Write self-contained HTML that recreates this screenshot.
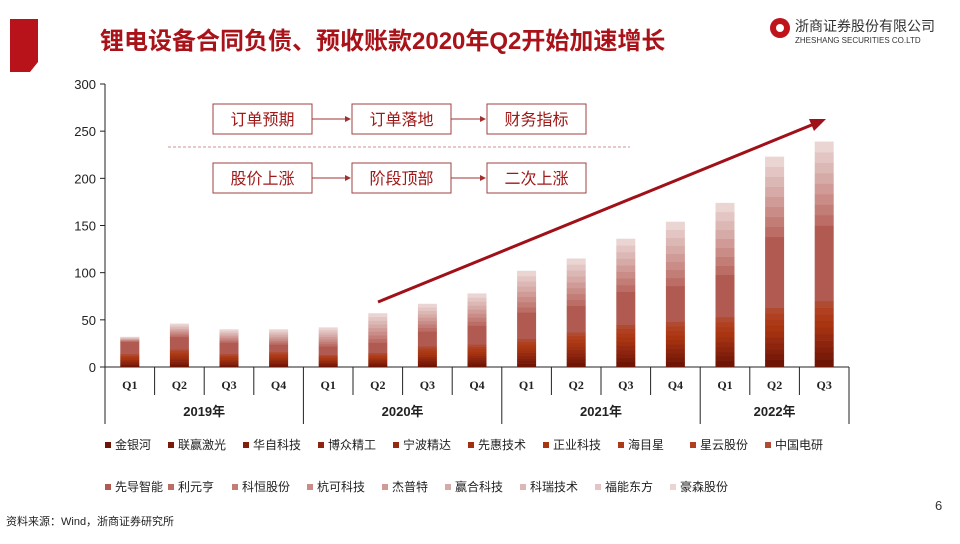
<!DOCTYPE html>
<html><head><meta charset="utf-8"><style>
body{margin:0;width:960px;height:539px;background:#fff;overflow:hidden;font-family:"Liberation Sans","Noto Sans CJK SC",sans-serif;}
svg text{font-family:"Liberation Sans","Noto Sans CJK SC",sans-serif;}
</style></head><body>
<svg id="s" width="960" height="539" viewBox="0 0 960 539" xmlns="http://www.w3.org/2000/svg">
<polygon points="10,19 38,19 38,62 30,72 10,72" fill="#b8121a"/>
<text x="100" y="49" font-size="24" font-weight="bold" fill="#a81218">锂电设备合同负债、预收账款2020年Q2开始加速增长</text>
<circle cx="780" cy="28" r="10" fill="#c0141c"/>
<circle cx="780" cy="28" r="4" fill="#fff"/>
<text x="795" y="31" font-size="14" fill="#333">浙商证券股份有限公司</text>
<text x="795" y="43" font-size="8" fill="#333">ZHESHANG SECURITIES CO.LTD</text>
<g id="chart"></g>
<text x="935" y="510" font-size="13" fill="#333">6</text>
<text x="6" y="525" font-size="11" fill="#222">资料来源：Wind，浙商证券研究所</text>
</svg>
<script>
var g=document.getElementById('chart'),h='';
var x0=105,y0=367,sc=283/300,cw=49.6;
for(var v=0;v<=300;v+=50){var y=y0-v*sc;h+='<text x="96" y="'+(y+5)+'" font-size="13" text-anchor="end" fill="#222">'+v+'</text><line x1="100" x2="105" y1="'+y+'" y2="'+y+'" stroke="#222"/>';}
h+='<line x1="105" y1="84" x2="105" y2="424" stroke="#222"/><line x1="105" y1="367" x2="849" y2="367" stroke="#222"/>';
var dark=['#6e1506','#7a1a08','#82200c','#8c240e','#962a10','#a0300f','#a83510','#ac3a18','#b04020','#b04a30'];
var df=[.12,.1,.08,.1,.1,.1,.1,.1,.1,.1];
var light=['#bc6e66','#c27d76','#c98c86','#d09b96','#d6aaa6','#dcb8b5','#e3c6c4','#ead5d3'];
var data=[[14,13,5],[19,13,14],[14,12,14],[16,8,16],[13,9,20],[15,11,31],[22,16,29],[24,20,34],[30,28,44],[37,28,50],[45,35,56],[48,38,68],[53,45,76],[63,75,85],[70,80,89]];
var q=['Q1','Q2','Q3','Q4'];
data.forEach(function(d,i){var cx=x0+cw*(i+.5),bw=19,cum=0;
 function seg(val,c){var yt=y0-(cum+val)*sc;h+='<rect x="'+(cx-bw/2)+'" y="'+yt+'" width="'+bw+'" height="'+(val*sc+0.3)+'" fill="'+c+'"/>';cum+=val;}
 dark.forEach(function(c,k){seg(d[0]*df[k],c);});
 seg(d[1],'#b05a52');
 light.forEach(function(c){seg(d[2]/8,c);});
 h+='<text x="'+cx+'" y="389" font-size="12" text-anchor="middle" fill="#222" style="font-family:\'Liberation Serif\',serif" font-weight="bold">'+q[i%4]+'</text>';
 var xe=x0+cw*(i+1);var yr=(i%4==3||i==14);h+='<line x1="'+xe+'" x2="'+xe+'" y1="367" y2="'+(yr?424:395)+'" stroke="#222"/>';
});
['2019年','2020年','2021年','2022年'].forEach(function(t,k){var cx=x0+cw*(4*k+2);if(k==3)cx=x0+cw*13.5;h+='<text x="'+cx+'" y="416" font-size="13" text-anchor="middle" fill="#222" font-weight="bold">'+t+'</text>';});
function box(x,y,t){h+='<rect x="'+x+'" y="'+y+'" width="99" height="30" fill="#fff" stroke="#a04040"/><text x="'+(x+49.5)+'" y="'+(y+21)+'" font-size="16" text-anchor="middle" fill="#a01818">'+t+'</text>';}
function arr(x1,x2,y){h+='<line x1="'+x1+'" x2="'+(x2-5)+'" y1="'+y+'" y2="'+y+'" stroke="#a03030"/><polygon points="'+x2+','+y+' '+(x2-6)+','+(y-3)+' '+(x2-6)+','+(y+3)+'" fill="#a03030"/>';}
box(213,104,'订单预期');box(352,104,'订单落地');box(487,104,'财务指标');
box(213,163,'股价上涨');box(352,163,'阶段顶部');box(487,163,'二次上涨');
arr(312,351,119);arr(451,486,119);arr(312,351,178);arr(451,486,178);
h+='<line x1="168" x2="630" y1="147" y2="147" stroke="#d09090" stroke-dasharray="3,2"/>';
h+='<line x1="378" y1="302" x2="814" y2="124" stroke="#a01018" stroke-width="3"/><polygon points="826,119 809,119 814,131" fill="#a01018"/>';
var L1=[['金银河',105,'#6e1506'],['联赢激光',168,'#7a1a08'],['华自科技',243,'#82200c'],['博众精工',318,'#8c240e'],['宁波精达',393,'#962a10'],['先惠技术',468,'#a0300f'],['正业科技',543,'#a83510'],['海目星',618,'#ac3a18'],['星云股份',690,'#b04020'],['中国电研',765,'#b04a30']];
var L2=[['先导智能',105,'#b05a52'],['利元亨',168,'#bc6e66'],['科恒股份',232,'#c27d76'],['杭可科技',307,'#c98c86'],['杰普特',382,'#d09b96'],['赢合科技',445,'#d6aaa6'],['科瑞技术',520,'#dcb8b5'],['福能东方',595,'#e3c6c4'],['豪森股份',670,'#ead5d3']];
function leg(a,y){a.forEach(function(e){h+='<rect x="'+e[1]+'" y="'+(y-3)+'" width="6" height="6" fill="'+e[2]+'"/><text x="'+(e[1]+10)+'" y="'+(y+4)+'" font-size="12" fill="#222">'+e[0]+'</text>';});}
leg(L1,445);leg(L2,487);
g.innerHTML=h;
</script>
</body></html>
